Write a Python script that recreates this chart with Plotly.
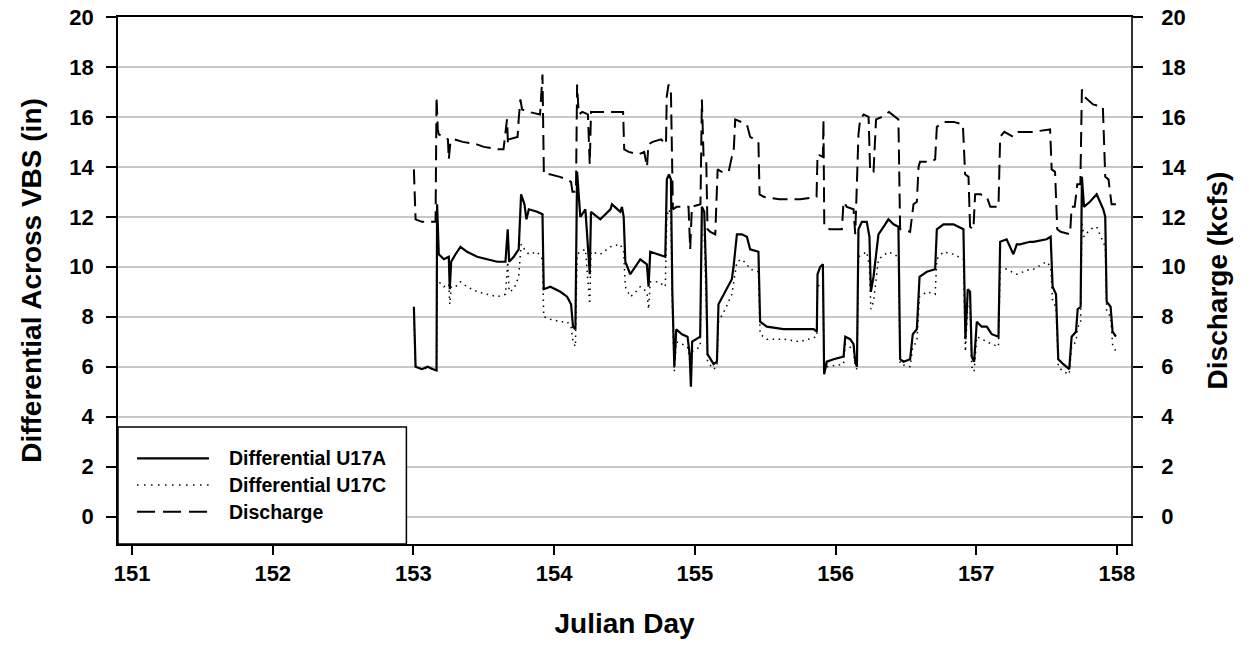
import plotly.graph_objects as go

# ---------------- data ----------------
u17a_day = [153.003, 153.015, 153.06, 153.10, 153.14, 153.164, 153.168, 153.18, 153.216, 153.251, 153.258,
            153.268, 153.299, 153.334, 153.381, 153.453, 153.524, 153.595, 153.654, 153.670, 153.68,
            153.713, 153.748, 153.765, 153.789, 153.803, 153.82, 153.879, 153.917, 153.926, 153.973,
            154.044, 154.092, 154.12, 154.134, 154.151, 154.163, 154.186, 154.222, 154.253, 154.262,
            154.328, 154.40, 154.411, 154.47, 154.482, 154.494, 154.506, 154.541, 154.565, 154.612,
            154.659, 154.671, 154.683, 154.742, 154.79, 154.801, 154.816, 154.83, 154.84, 154.854,
            154.868, 154.908, 154.948, 154.963, 154.972, 154.981, 155.038, 155.05, 155.067, 155.081,
            155.09, 155.133, 155.157, 155.168, 155.216, 155.263, 155.275, 155.299, 155.334, 155.370,
            155.393, 155.452, 155.464, 155.512, 155.63, 155.748, 155.844, 155.867, 155.872, 155.891,
            155.91, 155.919, 155.938, 155.986, 156.057, 156.069, 156.104, 156.128, 156.14, 156.152,
            156.163, 156.187, 156.222, 156.241, 156.251, 156.27, 156.289, 156.305, 156.341, 156.376,
            156.412, 156.447, 156.459, 156.483, 156.53, 156.549, 156.578, 156.597, 156.649, 156.708,
            156.72, 156.767, 156.838, 156.909, 156.923, 156.94, 156.956, 156.968, 156.985, 157.004,
            157.039, 157.075, 157.11, 157.158, 157.17, 157.216, 157.264, 157.288, 157.311, 157.382,
            157.406, 157.5, 157.529, 157.543, 157.567, 157.583, 157.619, 157.661, 157.678, 157.709,
            157.721, 157.742, 157.751, 157.766, 157.808, 157.856, 157.903, 157.917, 157.927, 157.955,
            157.969, 157.993]
u17a_val = [8.4, 6.0, 5.9, 6.0, 5.9, 5.85, 12.5, 10.5, 10.3, 10.4, 9.1,
            10.2, 10.5, 10.8, 10.6, 10.4, 10.3, 10.2, 10.2, 11.5, 10.2,
            10.4, 10.7, 12.9, 12.5, 11.9, 12.3, 12.2, 12.1, 9.1, 9.2,
            9.0, 8.8, 8.5, 7.6, 7.5, 13.8, 12.0, 12.3, 9.7, 12.2,
            11.9, 12.3, 12.5, 12.2, 12.4, 12.0, 10.2, 9.7, 9.9, 10.3,
            10.1, 9.2, 10.6, 10.5, 10.4, 13.5, 13.7, 13.5, 9.0, 6.0,
            7.5, 7.3, 7.2, 6.5, 5.2, 7.0, 7.2, 12.4, 12.2, 9.5,
            6.5, 6.1, 6.2, 8.5, 9.0, 9.5, 10.0, 11.3, 11.3, 11.2,
            10.7, 10.6, 7.8, 7.6, 7.5, 7.5, 7.5, 7.4, 9.7, 10.0,
            10.1, 5.7, 6.2, 6.3, 6.4, 7.2, 7.1, 6.9, 6.2, 6.0,
            11.5, 11.8, 11.8, 11.2, 9.0, 9.6, 10.5, 11.3, 11.6, 11.9,
            11.7, 11.6, 6.3, 6.2, 6.3, 7.3, 7.5, 9.6, 9.8, 9.9,
            11.5, 11.7, 11.7, 11.5, 7.1, 9.1, 9.0, 6.4, 6.2, 7.8,
            7.6, 7.6, 7.3, 7.2, 11.0, 11.1, 10.5, 10.9, 10.9, 11.0,
            11.0, 11.1, 11.2, 9.2, 8.9, 6.3, 6.1, 5.9, 7.2, 7.4,
            8.3, 8.4, 13.6, 12.4, 12.6, 12.9, 12.3, 12.0, 8.6, 8.4,
            7.4, 7.2]

u17c_day = [153.003, 153.015, 153.06, 153.10, 153.164, 153.168, 153.18, 153.216, 153.251, 153.258,
            153.268, 153.299, 153.334, 153.381, 153.453, 153.524, 153.595, 153.654, 153.670, 153.68,
            153.713, 153.748, 153.765, 153.789, 153.82, 153.879, 153.917, 153.926, 153.973, 154.044,
            154.092, 154.12, 154.134, 154.151, 154.163, 154.186, 154.222, 154.253, 154.262, 154.328,
            154.40, 154.47, 154.494, 154.506, 154.541, 154.565, 154.612, 154.659, 154.671, 154.683,
            154.742, 154.79, 154.801, 154.816, 154.83, 154.84, 154.854, 154.868, 154.908, 154.948,
            154.963, 154.972, 154.981, 155.038, 155.05, 155.067, 155.081, 155.09, 155.133, 155.157,
            155.168, 155.216, 155.263, 155.275, 155.299, 155.334, 155.370, 155.393, 155.452, 155.464,
            155.512, 155.63, 155.748, 155.867, 155.872, 155.91, 155.919, 155.938, 156.057, 156.069,
            156.128, 156.14, 156.152, 156.163, 156.222, 156.241, 156.251, 156.27, 156.289, 156.305,
            156.376, 156.447, 156.459, 156.53, 156.549, 156.578, 156.597, 156.649, 156.708, 156.72,
            156.767, 156.838, 156.909, 156.923, 156.94, 156.956, 156.968, 156.985, 157.004, 157.039,
            157.075, 157.11, 157.158, 157.17, 157.216, 157.288, 157.382, 157.406, 157.5, 157.529,
            157.543, 157.567, 157.583, 157.619, 157.661, 157.678, 157.709, 157.721, 157.742, 157.751,
            157.766, 157.808, 157.856, 157.903, 157.917, 157.927, 157.955, 157.969, 157.993]
u17c_val = [8.0, 6.0, 5.9, 5.95, 5.85, 9.3, 9.4, 9.2, 9.3, 8.5,
            9.2, 9.2, 9.4, 9.2, 9.0, 8.9, 8.8, 8.9, 10.2, 9.0,
            9.1, 9.6, 10.9, 10.7, 10.5, 10.6, 10.3, 8.0, 7.9, 7.8,
            7.8, 7.6, 7.0, 6.8, 10.5, 10.6, 10.7, 8.5, 10.6, 10.5,
            10.8, 10.9, 10.6, 9.2, 8.8, 8.9, 9.2, 9.0, 8.3, 9.4,
            9.4, 9.2, 12.0, 12.3, 12.0, 8.5, 5.8, 7.0, 6.9, 6.8,
            6.3, 5.5, 6.6, 6.8, 11.5, 11.3, 8.5, 6.2, 5.9, 6.0,
            7.8, 8.3, 8.9, 9.3, 10.2, 10.3, 10.1, 9.9, 9.8, 7.3,
            7.1, 7.1, 7.0, 7.2, 9.2, 9.4, 5.8, 6.0, 6.1, 6.9,
            6.7, 6.0, 5.9, 10.4, 10.6, 10.0, 8.3, 8.6, 9.6, 10.3,
            10.6, 10.4, 6.1, 6.0, 6.8, 7.0, 8.8, 9.0, 8.9, 10.3,
            10.6, 10.5, 10.3, 6.6, 8.5, 8.4, 6.0, 5.8, 7.2, 7.1,
            7.0, 6.9, 6.8, 10.0, 9.9, 9.7, 9.9, 9.9, 10.2, 10.0,
            8.6, 8.4, 6.0, 5.8, 5.7, 6.8, 7.0, 7.6, 7.7, 11.8,
            11.2, 11.5, 11.6, 11.0, 10.8, 8.2, 8.0, 6.9, 6.6]

discharge_day = [153.003, 153.015, 153.06, 153.10, 153.157, 153.164, 153.173, 153.18, 153.216, 153.245,
                 153.251, 153.263, 153.29, 153.35, 153.45, 153.50, 153.60, 153.64, 153.665, 153.672,
                 153.68, 153.74, 153.748, 153.76, 153.772, 153.82, 153.90, 153.917, 153.927, 153.97,
                 154.04, 154.09, 154.12, 154.13, 154.155, 154.163, 154.175, 154.20, 154.24, 154.253,
                 154.262, 154.33, 154.40, 154.49, 154.498, 154.53, 154.60, 154.64, 154.66, 154.67,
                 154.70, 154.76, 154.795, 154.80, 154.813, 154.83, 154.844, 154.87, 154.92, 154.955,
                 154.967, 154.979, 155.04, 155.05, 155.062, 155.081, 155.09, 155.11, 155.145, 155.162,
                 155.19, 155.24, 155.263, 155.275, 155.287, 155.33, 155.37, 155.393, 155.452, 155.46,
                 155.49, 155.60, 155.75, 155.865, 155.872, 155.91, 155.914, 155.92, 155.96, 156.045,
                 156.057, 156.08, 156.128, 156.14, 156.163, 156.175, 156.20, 156.235, 156.246, 156.27,
                 156.288, 156.33, 156.38, 156.447, 156.459, 156.53, 156.554, 156.578, 156.59, 156.60,
                 156.68, 156.708, 156.72, 156.77, 156.84, 156.905, 156.921, 156.945, 156.956, 156.98,
                 156.992, 157.03, 157.075, 157.10, 157.158, 157.17, 157.20, 157.264, 157.30, 157.40,
                 157.50, 157.525, 157.536, 157.56, 157.576, 157.60, 157.667, 157.678, 157.70, 157.718,
                 157.74, 157.751, 157.77, 157.83, 157.90, 157.917, 157.94, 157.962, 157.993]
discharge_val = [13.9, 11.9, 11.8, 11.8, 11.8, 16.8, 15.5, 15.3, 15.2, 15.1,
                 14.3, 15.0, 15.1, 15.0, 14.9, 14.8, 14.7, 14.7, 15.9, 14.9,
                 15.1, 15.2, 15.9, 16.7, 16.3, 16.2, 16.1, 17.7, 13.7, 13.7,
                 13.6, 13.5, 13.4, 13.0, 13.0, 17.3, 16.1, 16.2, 16.1, 14.1,
                 16.2, 16.2, 16.2, 16.2, 14.7, 14.6, 14.5, 14.6, 14.0, 14.9,
                 15.0, 15.1, 14.9, 16.8, 17.3, 17.0, 12.3, 12.4, 12.4, 12.4,
                 10.7, 12.4, 12.5, 16.7, 14.4, 14.3, 11.5, 11.4, 11.3, 13.9,
                 13.8, 13.8, 14.4, 14.5, 15.9, 15.8, 15.7, 15.2, 15.0, 12.9,
                 12.8, 12.7, 12.7, 12.8, 14.5, 14.4, 15.9, 11.6, 11.5, 11.5,
                 12.6, 12.4, 12.3, 11.3, 15.3, 15.9, 16.1, 16.0, 13.8, 13.8,
                 15.9, 16.0, 16.2, 15.9, 11.5, 11.4, 12.5, 12.6, 14.0, 14.2,
                 14.2, 14.3, 15.6, 15.8, 15.8, 15.7, 13.7, 13.6, 11.6, 11.5,
                 12.9, 12.9, 12.8, 12.4, 12.4, 15.2, 15.4, 15.2, 15.4, 15.4,
                 15.5, 15.5, 13.9, 13.8, 11.5, 11.4, 11.3, 12.4, 12.4, 13.3,
                 13.3, 17.1, 16.8, 16.5, 16.4, 13.6, 13.5, 12.5, 12.5]

series_names = ["Differential U17A", "Differential U17C", "Discharge"]
x_ticks = [151, 152, 153, 154, 155, 156, 157, 158]
y_ticks = [0, 2, 4, 6, 8, 10, 12, 14, 16, 18, 20]

# ---------------- styling ----------------
FONT = "Liberation Sans, Arial, Helvetica, sans-serif"
styles = [
    dict(color="black", width=2.2, dash="solid"),
    dict(color="black", width=1.5, dash="1.5px,4.5px"),
    dict(color="black", width=2, dash="15px,7px"),
]
legend_dash = ["solid", "1.5px,5.5px", "18px,8px"]

fig = go.Figure()
fig.add_trace(go.Scatter(x=u17a_day, y=u17a_val, mode="lines", name=series_names[0],
                         line=styles[0], showlegend=False))
fig.add_trace(go.Scatter(x=u17c_day, y=u17c_val, mode="lines", name=series_names[1],
                         line=styles[1], showlegend=False))
fig.add_trace(go.Scatter(x=discharge_day, y=discharge_val, mode="lines", name=series_names[2],
                         line=styles[2], yaxis="y2", showlegend=False))

# ---------------- custom legend box (bottom-left corner) ----------------
leg_x1 = 0.2847
leg_y1 = 0.222
row_y = [0.1626, 0.112, 0.0613]
shapes = [dict(type="rect", xref="paper", yref="paper", x0=0, x1=leg_x1, y0=0, y1=leg_y1,
               line=dict(color="black", width=1.5), fillcolor="white", layer="above")]
annotations = []
for name, st, ld, ry in zip(series_names, styles, legend_dash, row_y):
    shapes.append(dict(type="line", xref="paper", yref="paper", x0=0.0188, x1=0.0898, y0=ry, y1=ry,
                       line=dict(color="black", width=st["width"], dash=ld), layer="above"))
    annotations.append(dict(xref="paper", yref="paper", x=0.1073, y=ry, text=name, showarrow=False,
                            xanchor="left", yanchor="middle",
                            font=dict(family=FONT, size=19.5, color="black", weight="bold")))

tickfont = dict(family=FONT, size=22, color="black", weight="bold")
titlefont = dict(family=FONT, size=28, color="black", weight="bold")

fig.update_layout(
    width=1249, height=656,
    margin=dict(l=118, r=118, t=17, b=112, autoexpand=False),
    paper_bgcolor="white", plot_bgcolor="white",
    showlegend=False,
    shapes=shapes, annotations=annotations,
    xaxis=dict(range=[150.9, 158.1], tickvals=x_ticks, ticks="outside", ticklen=9, tickwidth=1.5,
               tickcolor="black", showline=True, linecolor="black", linewidth=1.5, mirror=True,
               showgrid=False, zeroline=False, tickfont=tickfont, automargin=False,
               title=dict(text="Julian Day", font=titlefont, standoff=28)),
    yaxis=dict(range=[-1.1, 20], tickvals=y_ticks, ticks="outside", ticklen=10, tickwidth=1.5,
               tickcolor="black", showline=True, linecolor="black", linewidth=1.5,
               showgrid=True, gridcolor="#c8c8c8", gridwidth=1.5, zeroline=False, tickfont=tickfont,
               automargin=False, ticklabelstandoff=8,
               title=dict(text="Differential Across VBS (in)", font=titlefont, standoff=20)),
    yaxis2=dict(range=[-1.1, 20], tickvals=y_ticks, ticks="outside", ticklen=10, tickwidth=1.5,
                tickcolor="black", overlaying="y", side="right", showline=True, linecolor="#333333",
                linewidth=1.5, showgrid=False, zeroline=False, tickfont=tickfont,
                automargin=False, ticklabelstandoff=14,
                title=dict(text="Discharge (kcfs)", font=titlefont, standoff=22)),
)

# remove the browser's default 8px page margin so the figure fills the window exactly
fig.write_html("out.html", config={"displayModeBar": False},
               post_script="document.body.style.margin='0px';")
